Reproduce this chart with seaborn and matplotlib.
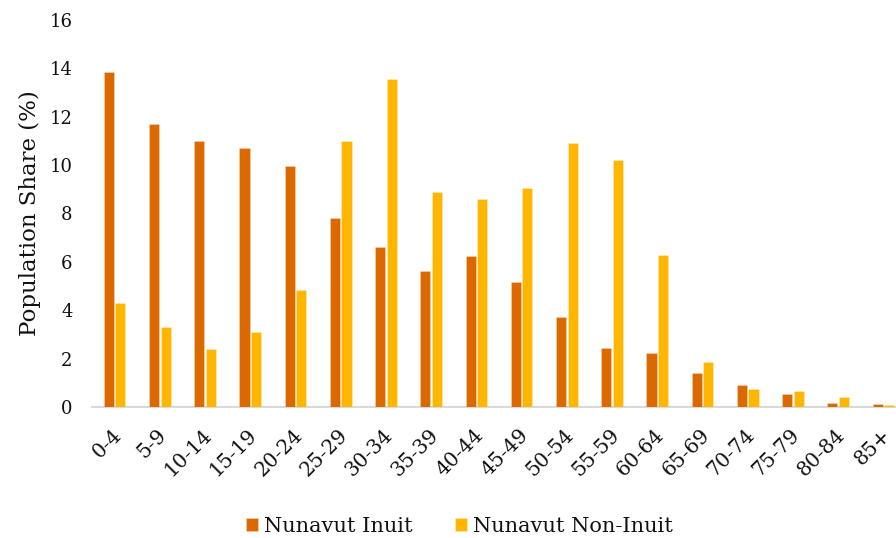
import matplotlib
matplotlib.use("Agg")
import matplotlib.pyplot as plt
import matplotlib.transforms as mtransforms
import seaborn as sns
import pandas as pd

# Age groups and population shares (%) for Nunavut
age_groups = ["0-4", "5-9", "10-14", "15-19", "20-24", "25-29", "30-34", "35-39",
              "40-44", "45-49", "50-54", "55-59", "60-64", "65-69", "70-74",
              "75-79", "80-84", "85+"]
inuit = [13.85, 11.7, 11.0, 10.7, 9.95, 7.8, 6.6, 5.6, 6.25, 5.15, 3.7, 2.45,
         2.25, 1.4, 0.9, 0.55, 0.18, 0.12]
non_inuit = [4.3, 3.3, 2.4, 3.1, 4.85, 11.0, 13.55, 8.9, 8.6, 9.05, 10.9, 10.2,
             6.3, 1.85, 0.75, 0.65, 0.42, 0.1]
series_names = ["Nunavut Inuit", "Nunavut Non-Inuit"]
y_ticks = [0, 2, 4, 6, 8, 10, 12, 14, 16]

df = pd.DataFrame({
    "age": age_groups * 2,
    "share": inuit + non_inuit,
    "group": [series_names[0]] * len(age_groups) + [series_names[1]] * len(age_groups),
})

sns.set_theme(style="white")
plt.rcParams["font.family"] = ["DejaVu Serif"]
text_color = "#111111"

fig = plt.figure(figsize=(8.96, 5.38), dpi=100)
ax = fig.add_axes([92 / 896, 1 - 407 / 538, 814 / 896, (407 - 19.8) / 538])
ax.set_axisbelow(True)

sns.barplot(data=df, x="age", y="share", hue="group", order=age_groups,
            hue_order=series_names, palette=["#DC6900", "#FFB600"], saturation=1,
            width=0.51, gap=0.13, edgecolor=(1, 1, 1, 0.4), linewidth=0.4,
            ax=ax, legend=True)

ax.set_ylim(0, 16)
ax.set_xlim(-0.5, len(age_groups) - 0.5)
ax.set_yticks(y_ticks)
ax.set_yticklabels([str(t) for t in y_ticks], fontsize=13, color=text_color)
ax.tick_params(axis="y", length=0, pad=14)
ax.tick_params(axis="x", length=0, pad=18)
shift = mtransforms.ScaledTranslation(4 / 100, 0, fig.dpi_scale_trans)
for lab in ax.get_xticklabels():
    lab.set_rotation(45)
    lab.set_ha("right")
    lab.set_va("center")
    lab.set_rotation_mode("anchor")
    lab.set_fontsize(14.5)
    lab.set_color(text_color)
    lab.set_transform(lab.get_transform() + shift)

ax.set_xlabel("")
ax.set_ylabel("Population Share (%)", fontsize=16.5, color=text_color, labelpad=6)

for side in ["top", "right", "left"]:
    ax.spines[side].set_visible(False)
ax.spines["bottom"].set_color("#D9D9D9")
ax.spines["bottom"].set_linewidth(1.5)
ax.spines["bottom"].set_zorder(0.5)

handles, labels = ax.get_legend_handles_labels()
ax.get_legend().remove()
fig.legend(handles, labels, loc="center", bbox_to_anchor=(459.5 / 896, 1 - 526.5 / 538),
           ncol=2, frameon=False, fontsize=15, handlelength=0.6, handleheight=0.6,
           handletextpad=0.3, columnspacing=2.0, labelcolor=text_color)

fig.savefig("out.png", dpi=100)
